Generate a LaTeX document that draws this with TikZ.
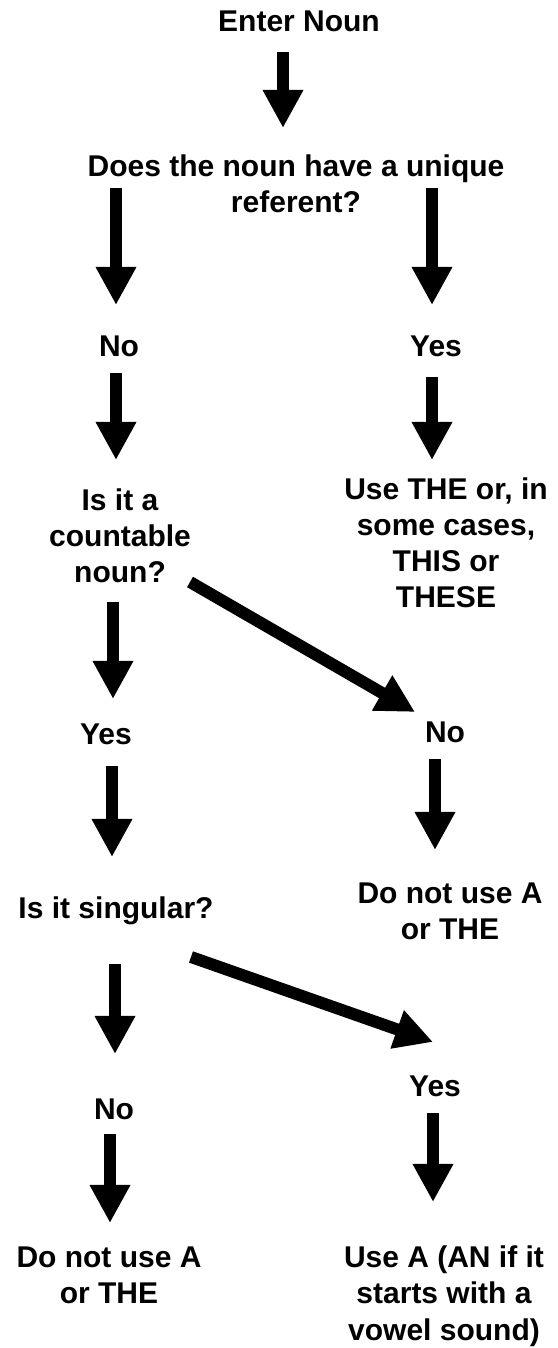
\documentclass[tikz,border=0pt]{standalone}
\usepackage{fontspec}
\setmainfont{Liberation Sans}
\usetikzlibrary{arrows.meta,calc}

\begin{document}
\begin{tikzpicture}[x=1pt,y=1pt,
   txt/.style={inner sep=0pt,anchor=base,align=center,font=\fontsize{30}{36}\selectfont\bfseries},
   bigarrow/.style={line width=12pt,-{Triangle[length=38pt,width=38pt]}}]
   \path[use as bounding box] (0,0) rectangle (557,1348);

   % base = baseline of the last line
   \node[txt] (enter)  at (299,1316) {Enter Noun};
   \node[txt] (q1)     at (296,1135) {Does the noun have a unique\\referent?};
   \node[txt] (no1)    at (119,991)  {No};
   \node[txt] (yes1)   at (436,991)  {Yes};
   \node[txt] (q2)     at (120,765)  {Is it a\\countable\\noun?};
   \node[txt] (usethe) at (446,740)  {Use THE or, in\\some cases,\\THIS or\\THESE};
   \node[txt] (yes2)   at (106,603)  {Yes};
   \node[txt] (no2)    at (445,605)  {No};
   \node[txt] (q3)     at (116,429)  {Is it singular?};
   \node[txt] (none1)  at (450,408)  {Do not use A\\or THE};
   \node[txt] (no3)    at (114,228)  {No};
   \node[txt] (yes3)   at (435,251)  {Yes};
   \node[txt] (none2)  at (109,44)   {Do not use A\\or THE};
   \node[txt] (usea)   at (444,8)    {Use A (AN if it\\starts with a\\vowel sound)};

   \draw[bigarrow] ($(enter.base)+(-16,-20)$) -- ($(q1.base)+(-13,85)$);
   \draw[bigarrow] ($(q1.base -| no1)+(-3,25)$) -- ($(no1.base)+(-3,52)$);
   \draw[bigarrow] ($(q1.base -| yes1)+(-4,25)$) -- ($(yes1.base)+(-4,52)$);
   \draw[bigarrow] ($(no1.base)+(-3,-16)$) -- ($(q2.base)+(-4,123)$);
   \draw[bigarrow] ($(yes1.base)+(-4,-20)$) -- ($(usethe.base)+(-14,148)$);
   \draw[bigarrow] ($(q2.base)+(-7,-19)$) -- ($(yes2.base)+(7,46)$);
   \draw[bigarrow] ($(q2.base)+(70,1)$) -- ($(no2.base)+(-30,31)$);
   \draw[bigarrow] ($(yes2.base)+(6,-21)$) -- ($(q3.base)+(-4,62)$);
   \draw[bigarrow] ($(no2.base)+(-10,-16)$) -- ($(none1.base)+(-15,90)$);
   \draw[bigarrow] ($(q3.base)+(-1,-45)$) -- ($(no3.base)+(1,66)$);
   \draw[bigarrow] ($(q3.base)+(75,-38)$) -- ($(yes3.base)+(-2,55)$);
   \draw[bigarrow] ($(no3.base)+(-4,-14)$) -- ($(none2.base)+(1,81)$);
   \draw[bigarrow] ($(yes3.base)+(-2,-16)$) -- ($(usea.base)+(-11,138)$);
\end{tikzpicture}
\end{document}
